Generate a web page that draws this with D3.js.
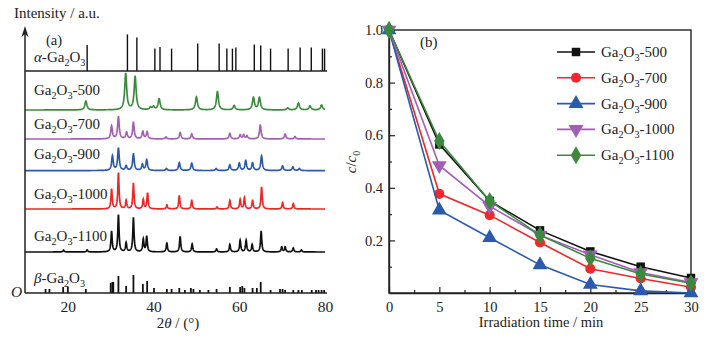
<!DOCTYPE html>
<html>
<head>
<meta charset="utf-8">
<script src="https://cdn.jsdelivr.net/npm/d3@7"></script>
<style>
  body { margin: 0; background: #fff; }
  svg text { font-family: "Liberation Serif", "DejaVu Serif", serif; fill: #222; }
</style>
</head>
<body>
<div id="chart"></div>
<script>
// ---- panel (a): XRD patterns, [2theta, intensity a.u.] ----
const alphaSticks = [[24.5,13],[33.9,18.3],[36.1,16.7],[40.3,11.2],[41.5,12],[44.2,11.2],[50.3,13.7],
  [55.3,13.8],[57.1,11.2],[58.4,11.2],[59.2,11.7],[63.5,13.3],[65.0,12.8],[67.3,11.2],[71.4,11.2],
  [74.2,11.7],[76.8,11.7],[79.4,11.2],[79.9,11.2]];
const betaSticks = [[14.8,2],[15.7,2],[18.9,3],[20.0,3],[24.2,2],[30.0,5],[30.4,5.5],[30.6,5.5],
  [31.8,8.5],[33.6,3.5],[35.3,9],[37.5,4.5],[38.5,6],[40.1,2.5],[43.1,2],[44.2,2],[46.0,2.5],
  [47.3,1.5],[48.7,2.5],[49.3,2],[50.8,1.5],[52.8,1.5],[54.7,2],[57.8,3],[60.2,3],[60.7,3.5],
  [61.2,2.5],[63.1,2.5],[64.1,2.5],[65.0,5.5],[67.3,1.5],[69.5,2],[70.1,2],[70.7,1.5],[72.6,1.5],
  [73.8,1.5],[74.6,1.5],[76.9,1.5],[77.9,1.5],[78.5,1.5],[79.2,1.5],[79.8,1.5]];
const peaks500 = [[24.2,4.5],[33.5,18],[35.7,16.5],[39.3,1.2],[40.0,1.5],[41.3,5.5],[50.0,6.5],[54.9,9.2],
  [58.8,2.2],[63.3,6.2],[64.7,6.2],[71.3,1],[73.8,3.5],[76.5,2],[79.2,2.5]];
const peaks700 = [[30.2,6.5],[31.8,11.2],[33.7,3.2],[35.3,8.2],[37.5,3.7],[38.5,3.5],[42.9,1],[46.2,3.2],
  [48.9,2.5],[57.8,2.8],[60.2,2],[61.0,2],[61.8,1.5],[64.9,7],[70.7,2.5],[73.0,1.2]];
const peaks900 = [[30.4,7.3],[31.8,11.2],[33.6,2.3],[35.3,8.3],[37.4,3],[38.4,5.3],[43.0,1],[46.0,4],
  [48.9,3.7],[54.6,1],[57.8,2.8],[60.0,3.7],[61.5,5],[63.1,3.8],[65.2,7.3],[70.1,2.3],[72.5,1.8],[74.0,1]];
const peaks1000 = [[30.2,10],[31.8,18],[33.6,4.2],[35.3,12.7],[37.6,4.7],[38.6,8],[43.1,2],[46.0,6.7],
  [48.9,4.3],[54.8,1],[57.8,4.3],[60.2,4.7],[61.2,5.5],[63.1,4.3],[65.2,11],[70.1,3.3],[72.6,2.7]];
const peaks1100 = [[19.0,1],[24.5,1],[30.2,10.3],[31.8,18.5],[33.6,4.5],[35.3,17],[37.6,6.2],[38.4,7.8],
  [43.1,4.5],[46.2,7.8],[49.0,4],[54.7,1.5],[57.8,3.7],[60.2,5.8],[61.6,5.8],[63.0,3.7],[65.1,10.3],
  [69.9,2.5],[70.7,2.5],[72.6,2],[74.5,1]];
const xrdNames = ["500", "700", "900", "1000", "1100"];
const xrdOffsets = [91.5, 77, 61.2, 42, 20.5];
const xrdWidths = [0.28, 0.22, 0.22, 0.17, 0.17];
const xrdColors = ["#3a8c3c", "#a35fb4", "#2a5aae", "#ee2626", "#111"];
const xrdPeaks = [peaks500, peaks700, peaks900, peaks1000, peaks1100];
const alphaOffset = 111;
const xrdTicks = [20, 40, 60, 80];

// ---- panel (b): photodegradation c/c0 ----
const times = [0, 5, 10, 15, 20, 25, 30];
const seriesNames = ["500", "700", "900", "1000", "1100"];
const c500  = [1.0, 0.565, 0.35, 0.238, 0.158, 0.10, 0.057];
const c700  = [1.0, 0.377, 0.296, 0.192, 0.092, 0.055, 0.022];
const c900  = [1.0, 0.315, 0.21, 0.107, 0.032, 0.008, 0.0];
const c1000 = [1.0, 0.485, 0.33, 0.22, 0.145, 0.078, 0.04];
const c1100 = [1.0, 0.578, 0.35, 0.22, 0.132, 0.072, 0.037];
const seriesValues = [c500, c700, c900, c1000, c1100];
const seriesColors = ["#111", "#f0282a", "#2a5aad", "#a25db6", "#3a8a3e"];
const seriesSymbols = [d3.symbolSquare, d3.symbolCircle, d3.symbolTriangle, "down", d3.symbolDiamond];
const yTicksB = [0.2, 0.4, 0.6, 0.8, 1.0];

const svg = d3.select("#chart").append("svg").attr("width", 710).attr("height", 340);

function gaLabel(g, x, y, prefix, suffix, size, italicPrefix) {
  const t = g.append("text").attr("x", x).attr("y", y).attr("font-size", size);
  if (prefix) t.append("tspan").attr("font-style", italicPrefix ? "italic" : null).text(prefix);
  t.append("tspan").text("Ga");
  t.append("tspan").attr("font-size", size * 0.68).attr("dy", 4).text("2");
  t.append("tspan").attr("dy", -4).text("O");
  t.append("tspan").attr("font-size", size * 0.68).attr("dy", 4).text("3");
  t.append("tspan").attr("dy", -4).text(suffix);
  return t;
}

// ================= panel (a) =================
const xa = d3.scaleLinear().domain([10, 80]).range([25, 325]);
const ya = d3.scaleLinear().domain([0, 133]).range([293, 27]);
const ga = svg.append("g");

const grid = d3.range(10, 80.0001, 0.04);
xrdPeaks.forEach((pk, i) => {
  const w = xrdWidths[i];
  const pts = grid.map(t => {
    let v = 0;
    pk.forEach(([p, h]) => { const u = (t - p) / w; v += h / (1 + u * u); });
    return [t, xrdOffsets[i] + v];
  });
  ga.append("path")
    .attr("d", d3.line().x(d => xa(d[0])).y(d => ya(d[1]))(pts))
    .attr("fill", "none").attr("stroke", xrdColors[i]).attr("stroke-width", 1.7);
});

// alpha reference sticks
ga.append("line").attr("x1", xa(10)).attr("x2", xa(80) + 2)
  .attr("y1", ya(alphaOffset)).attr("y2", ya(alphaOffset)).attr("stroke", "#222").attr("stroke-width", 1.5);
ga.selectAll(".alpha").data(alphaSticks).enter().append("line")
  .attr("x1", d => xa(d[0])).attr("x2", d => xa(d[0]))
  .attr("y1", ya(alphaOffset)).attr("y2", d => ya(alphaOffset + d[1]))
  .attr("stroke", "#111").attr("stroke-width", 1.4);
// beta reference sticks
ga.selectAll(".beta").data(betaSticks).enter().append("line")
  .attr("x1", d => xa(d[0])).attr("x2", d => xa(d[0]))
  .attr("y1", ya(0)).attr("y2", d => ya(d[1]))
  .attr("stroke", "#111").attr("stroke-width", 1.8);

// axes
const axA = ga.append("g").attr("transform", `translate(0,${ya(0)})`)
  .call(d3.axisBottom(xa).tickValues(xrdTicks).tickSize(0).tickSizeOuter(0).tickPadding(8));
axA.select(".domain").attr("stroke", "#222").attr("stroke-width", 1.5)
  .attr("d", `M${xa(10)},0H${xa(80) + 2}`);
axA.selectAll("text").attr("font-size", 15.5).attr("font-family", "Liberation Serif").attr("fill", "#222");
ga.append("line").attr("x1", xa(10)).attr("x2", xa(10)).attr("y1", ya(0)).attr("y2", 31)
  .attr("stroke", "#222").attr("stroke-width", 1.5);
ga.append("path").attr("d", `M${xa(10)},26L${xa(10) - 3.5},37L${xa(10)},34L${xa(10) + 3.5},37Z`).attr("fill", "#222");

ga.append("text").attr("x", 14).attr("y", 18).attr("font-size", 15).text("Intensity / a.u.");
ga.append("text").attr("x", 11).attr("y", 297).attr("font-size", 15.5).attr("font-style", "italic").text("O");
const xt = ga.append("text").attr("x", 178).attr("y", 328).attr("text-anchor", "middle").attr("font-size", 15);
xt.append("tspan").text("2");
xt.append("tspan").attr("font-style", "italic").text("θ");
xt.append("tspan").text(" / (°)");
ga.append("text").attr("x", 46).attr("y", 45).attr("font-size", 14.5).text("(a)");

gaLabel(ga, 34, 62, "α-", "", 15, true);
const labelY = [95, 129, 159, 199, 240.5];
xrdNames.forEach((n, i) => gaLabel(ga, 34, labelY[i], "", "-" + n, 15));
gaLabel(ga, 34, 283, "β-", "", 15, true);

// ================= panel (b) =================
const xb = d3.scaleLinear().domain([0, 30]).range([389, 691]);
const yb = d3.scaleLinear().domain([0, 1]).range([293, 30]);
const gb = svg.append("g");

gb.append("rect").attr("x", xb(0)).attr("y", yb(1)).attr("width", xb(30) - xb(0)).attr("height", yb(0) - yb(1))
  .attr("fill", "none").attr("stroke", "#222").attr("stroke-width", 1.4);

const bx = gb.append("g").attr("transform", `translate(0,${yb(0)})`)
  .call(d3.axisBottom(xb).tickValues(times).tickSize(-6).tickSizeOuter(0).tickPadding(9));
gb.append("g").attr("transform", `translate(0,${yb(0)})`)
  .call(d3.axisBottom(xb).tickValues(d3.range(2.5, 30, 5)).tickSize(-3).tickFormat(""))
  .select(".domain").remove();
const by = gb.append("g").attr("transform", `translate(${xb(0)},0)`)
  .call(d3.axisLeft(yb).tickValues(yTicksB).tickSize(-6).tickSizeOuter(0).tickPadding(6).tickFormat(d3.format(".1f")));
gb.append("g").attr("transform", `translate(${xb(0)},0)`)
  .call(d3.axisLeft(yb).tickValues([0.1, 0.3, 0.5, 0.7, 0.9]).tickSize(-3).tickFormat(""))
  .select(".domain").remove();
[bx, by].forEach(a => {
  a.select(".domain").attr("stroke", "#222").attr("stroke-width", 1.4);
  a.selectAll("text").attr("font-size", 14.5).attr("font-family", "Liberation Serif").attr("fill", "#222");
});
gb.selectAll(".tick line").attr("stroke", "#222").attr("stroke-width", 1.2);

const symPath = (s, size) => s === "down"
  ? d3.symbol(d3.symbolTriangle, size)()
  : d3.symbol(s, size)();
const symSize = [72, 80, 95, 95, 95];
const symRot = s => s === "down" ? " rotate(180)" : "";

seriesValues.forEach((vals, i) => {
  const pts = times.map((t, k) => [t, vals[k]]);
  gb.append("path").attr("d", d3.line().x(d => xb(d[0])).y(d => yb(d[1]))(pts))
    .attr("fill", "none").attr("stroke", seriesColors[i]).attr("stroke-width", 1.6);
  gb.selectAll(".m" + i).data(pts).enter().append("path")
    .attr("d", symPath(seriesSymbols[i], symSize[i]))
    .attr("transform", d => `translate(${xb(d[0])},${yb(d[1])})` + symRot(seriesSymbols[i]))
    .attr("fill", seriesColors[i]);
});

// legend
seriesNames.forEach((n, i) => {
  const y = 52 + i * 25.8;
  gb.append("line").attr("x1", 557).attr("x2", 595).attr("y1", y).attr("y2", y)
    .attr("stroke", seriesColors[i]).attr("stroke-width", 1.6);
  gb.append("path").attr("d", symPath(seriesSymbols[i], symSize[i]))
    .attr("transform", `translate(576,${y})` + symRot(seriesSymbols[i])).attr("fill", seriesColors[i]);
  gaLabel(gb, 601, y + 5, "", "-" + n, 15);
});

gb.append("text").attr("x", 420).attr("y", 47).attr("font-size", 15).text("(b)");
gb.append("text").attr("x", 541).attr("y", 327).attr("text-anchor", "middle").attr("font-size", 14.5)
  .text("Irradiation time / min");
const yt = gb.append("text").attr("transform", "translate(356,162) rotate(-90)")
  .attr("text-anchor", "middle").attr("font-size", 15);
yt.append("tspan").attr("font-style", "italic").text("c");
yt.append("tspan").text("/");
yt.append("tspan").attr("font-style", "italic").text("c");
yt.append("tspan").attr("font-size", 10).attr("dy", 4).text("0");
</script>
</body>
</html>
